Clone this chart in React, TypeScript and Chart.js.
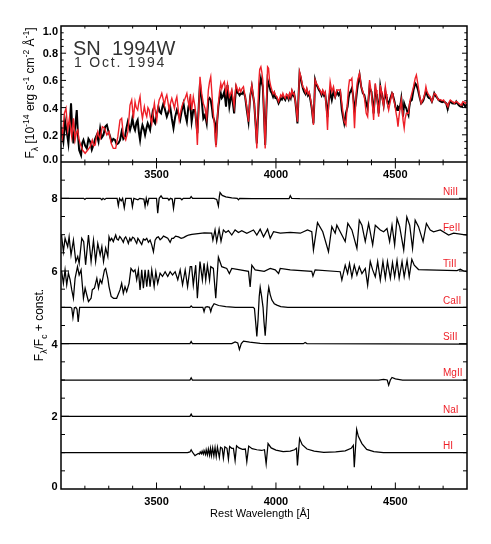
import React, { useEffect, useRef } from "react";
import { Chart, registerables } from "chart.js";
Chart.register(...registerables);

type P = [number, number];

const WAVE_MIN = 3100;
const WAVE_MAX = 4800;
const xLabelTicks = [3500, 4000, 4500];
const topYLabels = [0, 0.2, 0.4, 0.6, 0.8, 1.0];
const botYLabels = [0, 2, 4, 6, 8];
const ionNames = ["NiII", "FeII", "TiII", "CaII", "SiII", "MgII", "NaI", "HI"];
const ionOffsets = [8, 7, 6, 5, 4, 3, 2, 1];
const titleLine1 = "SN  1994W";
const titleLine2 = "1 Oct. 1994";

// observed spectrum (black), 10^-14 erg/s/cm2/A
const observed: P[] = [
  [3100,0.248],[3110,0.15],[3117,0.3],[3124,0.223],[3131,0.137],[3137,0.28],[3142,0.431],[3147,0.25],[3152,0.137],[3157,0.22],[3162,0.309],[3166,0.382],[3171,0.2],[3176,0.088],[3184,0.051],[3189,0.14],[3194,0.162],[3201,0.12],[3208,0.10],[3215,0.17],[3222,0.15],[3229,0.09],[3236,0.125],[3243,0.17],[3250,0.199],[3257,0.15],[3264,0.248],[3271,0.18],[3278,0.199],[3285,0.26],[3292,0.272],[3299,0.223],[3305,0.19],[3312,0.15],[3319,0.17],[3326,0.162],[3333,0.13],[3340,0.137],[3347,0.16],[3354,0.223],[3361,0.17],[3368,0.186],[3374,0.25],[3380,0.297],[3389,0.235],[3394,0.27],[3399,0.321],[3405,0.26],[3410,0.235],[3416,0.29],[3421,0.309],[3426,0.22],[3431,0.162],[3436,0.23],[3441,0.272],[3447,0.24],[3452,0.199],[3458,0.25],[3463,0.284],[3468,0.26],[3473,0.235],[3478,0.3],[3483,0.358],[3489,0.3],[3494,0.284],[3501,0.35],[3508,0.407],[3513,0.37],[3519,0.358],[3524,0.4],[3529,0.431],[3536,0.38],[3543,0.333],[3550,0.37],[3557,0.407],[3564,0.32],[3571,0.248],[3578,0.33],[3585,0.382],[3592,0.35],[3599,0.309],[3606,0.38],[3613,0.431],[3620,0.35],[3627,0.297],[3633,0.4],
  [3640,0.456],[3647,0.297],[3654,0.382],[3661,0.382],[3666,0.3],[3671,0.211],[3677,0.42],[3682,0.578],[3689,0.456],[3696,0.321],[3703,0.346],[3710,0.284],[3717,0.456],[3722,0.47],[3727,0.456],[3732,0.4],[3736,0.333],[3741,0.31],[3745,0.284],[3749,0.125],[3754,0.3],[3759,0.407],[3764,0.47],[3769,0.505],[3773,0.47],[3777,0.48],[3784,0.517],[3791,0.407],[3797,0.566],[3805,0.407],[3810,0.46],[3815,0.505],[3820,0.43],[3825,0.358],[3829,0.46],[3833,0.542],[3838,0.51],[3843,0.505],[3848,0.49],[3853,0.505],[3858,0.5],[3864,0.517],[3871,0.48],[3878,0.382],[3885,0.297],[3892,0.48],[3899,0.554],[3904,0.49],[3909,0.431],[3914,0.3],[3920,0.137],[3924,0.3],[3928,0.431],[3932,0.56],[3937,0.615],[3941,0.58],[3945,0.554],[3950,0.35],[3955,0.125],[3960,0.38],[3965,0.603],[3969,0.58],[3973,0.554],[3978,0.52],[3983,0.505],[3988,0.48],[3993,0.505],[3998,0.47],[4004,0.468],[4011,0.431],[4016,0.45],[4020,0.468],[4025,0.46],[4029,0.48],[4034,0.47],[4039,0.456],[4044,0.48],[4048,0.48],[4053,0.46],[4057,0.493],[4062,0.47],[4067,0.517],[4072,0.49],[4076,0.505],[4081,0.45],[4085,0.382],[4090,0.284],[4095,0.5],[4099,0.652],[4104,0.62],[4108,0.578],[4113,0.54],[4118,0.517],[4124,0.5],[4129,0.529],[4134,0.49],[4139,0.505],[4145,0.45],[4150,0.395],[4154,0.33],[4157,0.284],[4161,0.45],[4164,0.603],[4169,0.57],[4174,0.554],[4180,0.53],[4185,0.517],[4191,0.49],[4196,0.517],[4201,0.49],[4206,0.505],[4211,0.42],[4216,0.33],[4221,0.45],
  [4227,0.517],[4234,0.456],[4241,0.517],[4248,0.48],[4255,0.517],[4262,0.493],[4269,0.517],[4276,0.382],[4281,0.33],[4286,0.284],[4293,0.358],[4300,0.407],[4304,0.47],[4308,0.505],[4313,0.52],[4318,0.542],[4322,0.5],[4325,0.456],[4329,0.382],[4333,0.42],[4336,0.468],[4340,0.53],[4344,0.578],[4350,0.64],[4357,0.554],[4364,0.505],[4370,0.493],[4374,0.46],[4378,0.431],[4384,0.395],[4388,0.47],[4392,0.554],[4396,0.53],[4400,0.517],[4405,0.43],[4409,0.358],[4413,0.45],[4416,0.529],[4420,0.5],[4423,0.48],[4427,0.42],[4430,0.358],[4434,0.45],[4437,0.554],[4441,0.51],[4444,0.48],[4448,0.45],[4451,0.419],[4455,0.48],[4458,0.517],[4462,0.48],[4465,0.456],[4469,0.44],[4472,0.431],[4476,0.45],[4479,0.468],[4483,0.49],[4486,0.505],[4490,0.49],[4493,0.468],[4497,0.44],[4500,0.407],[4504,0.39],[4507,0.382],[4511,0.407],[4515,0.4],[4518,0.395],[4522,0.43],[4525,0.468],[4529,0.4],[4532,0.333],[4537,0.431],[4541,0.41],[4546,0.395],[4550,0.37],[4555,0.346],[4558,0.4],[4562,0.444],[4569,0.456],[4576,0.529],[4583,0.578],[4588,0.566],[4595,0.529],[4601,0.48],[4608,0.431],[4613,0.44],[4618,0.456],[4623,0.49],[4628,0.517],[4632,0.5],[4636,0.48],[4641,0.47],[4646,0.468],[4653,0.444],[4658,0.47],[4663,0.505],[4667,0.49],[4671,0.48],[4676,0.47],[4681,0.456],[4686,0.45],[4691,0.444],[4696,0.44],[4702,0.444],[4707,0.44],[4713,0.431],[4716,0.41],[4720,0.395],[4725,0.43],[4730,0.444],[4734,0.44],[4738,0.431],[4743,0.43],[4747,0.431],[4751,0.43],[4755,0.444],[4760,0.43],[4765,0.419],[4770,0.41],[4775,0.407],[4779,0.42],[4783,0.431],[4788,0.42],[4793,0.407],[4797,0.42],[4800,0.419],
];

// synthetic spectrum (red)
const model: P[] = [
  [3100,0.26],[3106,0.186],[3114,0.358],[3121,0.395],[3128,0.235],[3135,0.321],[3140,0.25],[3145,0.186],[3152,0.321],[3159,0.162],[3165,0.22],[3170,0.235],[3175,0.17],[3180,0.137],[3190,0.088],[3201,0.064],[3212,0.088],[3222,0.113],[3231,0.162],[3237,0.12],[3243,0.125],[3248,0.18],[3254,0.223],[3259,0.19],[3264,0.174],[3273,0.26],[3282,0.248],[3292,0.199],[3301,0.223],[3310,0.137],[3319,0.10],[3329,0.10],[3338,0.186],[3347,0.309],[3354,0.321],[3361,0.199],[3371,0.162],[3380,0.223],[3389,0.419],[3396,0.456],[3403,0.321],[3410,0.444],[3415,0.4],[3421,0.382],[3426,0.44],[3431,0.48],[3436,0.38],[3441,0.321],[3449,0.407],[3454,0.36],[3459,0.333],[3464,0.4],[3469,0.382],[3474,0.33],[3480,0.284],[3486,0.37],[3491,0.431],[3496,0.36],[3501,0.309],[3506,0.4],[3511,0.456],[3517,0.48],[3522,0.505],[3528,0.46],[3533,0.419],[3538,0.47],[3543,0.493],[3548,0.44],[3553,0.382],[3558,0.43],[3564,0.468],[3570,0.43],[3575,0.395],[3580,0.45],[3585,0.48],[3590,0.4],[3595,0.309],[3600,0.36],[3606,0.407],[3612,0.44],[3617,0.456],[3622,0.48],[3627,0.505],[3632,0.45],[3637,0.407],[3642,0.5],
  [3647,0.382],[3654,0.48],[3661,0.407],[3666,0.3],[3671,0.125],[3677,0.4],[3682,0.627],[3689,0.505],[3696,0.431],[3703,0.395],[3710,0.321],[3717,0.529],[3722,0.59],[3727,0.627],[3732,0.5],[3736,0.395],[3741,0.3],[3745,0.211],[3749,0.108],[3754,0.3],[3759,0.431],[3764,0.52],[3769,0.578],[3773,0.54],[3777,0.566],[3784,0.59],[3791,0.505],[3797,0.574],[3805,0.48],[3810,0.5],[3815,0.529],[3820,0.47],[3825,0.407],[3829,0.5],[3833,0.566],[3838,0.54],[3843,0.517],[3848,0.54],[3853,0.517],[3858,0.54],[3864,0.554],[3871,0.48],[3878,0.407],[3885,0.297],[3892,0.48],[3899,0.566],[3904,0.5],[3909,0.431],[3914,0.3],[3920,0.10],[3924,0.35],[3928,0.578],[3932,0.68],[3937,0.70],[3941,0.66],[3945,0.603],[3950,0.35],[3955,0.10],[3960,0.4],[3965,0.70],[3969,0.69],[3973,0.603],[3978,0.56],[3983,0.529],[3988,0.5],[3993,0.517],[3998,0.49],[4004,0.48],[4011,0.444],[4016,0.47],[4020,0.493],[4025,0.48],[4029,0.505],[4034,0.48],[4039,0.468],[4044,0.5],[4048,0.493],[4053,0.47],[4057,0.505],[4062,0.48],[4067,0.529],[4072,0.5],[4076,0.505],[4081,0.45],[4085,0.395],[4090,0.297],[4095,0.5],[4099,0.664],[4104,0.63],[4108,0.59],[4113,0.55],[4118,0.542],[4124,0.51],[4129,0.542],[4134,0.5],[4139,0.517],[4145,0.46],[4150,0.407],[4154,0.33],[4157,0.272],[4161,0.45],[4164,0.603],[4169,0.58],[4174,0.566],[4180,0.54],[4185,0.529],[4191,0.5],[4196,0.529],[4201,0.5],[4206,0.517],[4211,0.4],[4216,0.235],[4221,0.45],
  [4227,0.59],[4234,0.517],[4241,0.554],[4248,0.48],[4255,0.529],[4262,0.529],[4269,0.529],[4276,0.431],[4281,0.36],[4286,0.297],[4293,0.272],[4300,0.456],[4304,0.55],[4308,0.603],[4313,0.6],[4318,0.615],[4322,0.5],[4325,0.395],[4329,0.248],[4333,0.4],[4336,0.505],[4340,0.58],[4344,0.615],[4350,0.652],[4357,0.554],[4364,0.517],[4370,0.48],[4374,0.42],[4378,0.358],[4384,0.333],[4388,0.48],[4392,0.603],[4396,0.55],[4400,0.505],[4405,0.4],[4409,0.309],[4413,0.45],[4416,0.578],[4420,0.53],[4423,0.48],[4427,0.4],[4430,0.333],[4434,0.45],[4437,0.566],[4441,0.52],[4444,0.48],[4448,0.44],[4451,0.407],[4455,0.5],[4458,0.554],[4462,0.5],[4465,0.444],[4469,0.41],[4472,0.382],[4476,0.42],[4479,0.444],[4483,0.48],[4486,0.505],[4490,0.48],[4493,0.456],[4497,0.43],[4500,0.395],[4504,0.35],[4507,0.321],[4511,0.26],[4515,0.33],[4518,0.37],[4522,0.42],[4525,0.456],[4529,0.38],[4532,0.309],[4537,0.248],[4541,0.32],[4546,0.358],[4550,0.36],[4555,0.358],[4558,0.41],[4562,0.456],[4569,0.505],[4576,0.554],[4583,0.615],[4588,0.64],[4595,0.566],[4601,0.493],[4608,0.431],[4613,0.45],[4618,0.468],[4623,0.5],[4628,0.554],[4632,0.52],[4636,0.505],[4641,0.49],[4646,0.48],[4653,0.444],[4658,0.47],[4663,0.505],[4667,0.5],[4671,0.493],[4676,0.47],[4681,0.456],[4686,0.46],[4691,0.456],[4696,0.45],[4702,0.456],[4707,0.44],[4713,0.431],[4716,0.42],[4720,0.407],[4725,0.44],[4730,0.456],[4734,0.45],[4738,0.444],[4743,0.44],[4747,0.431],[4751,0.44],[4755,0.444],[4760,0.44],[4765,0.431],[4770,0.425],[4775,0.419],[4779,0.43],[4783,0.444],[4788,0.44],[4793,0.431],[4797,0.44],[4800,0.444],
];

// single-ion synthetic spectra, F/Fc + const
const niII: P[] = [
  [3100,8],[3195,8],[3200,7.97],[3205,8],[3265,8],[3271,7.96],[3276,8],[3283,7.97],[3289,8],[3335,8],[3340,7.8],[3345,8],[3352,7.93],[3358,8],[3365,7.74],[3371,8],[3394,8],[3399,7.77],[3405,8],[3422,7.96],[3430,8],[3447,7.98],[3452,7.78],[3457,8],[3463,7.84],[3468,8],[3500,8],[3505,7.59],[3511,8],[3519,8.07],[3526,8],[3547,8],[3552,7.95],[3558,8],[3566,7.98],[3571,7.72],[3577,8],[3600,8],[3606,7.96],[3612,8],[3640,8],[3645,8.05],[3651,8],[3700,8],[3740,8],[3752,7.97],[3759,7.79],[3763,8.05],[3766,8.16],[3775,8.08],[3790,8.04],[3815,8.01],[3838,8],[3843,7.96],[3848,8],[3900,7.99],[4000,7.99],[4055,7.99],[4060,8.07],[4066,8],[4100,7.99],[4800,7.98],
];
const feII: P[] = [
  [3100,6.99],[3103,6.94],[3110,6.53],[3117,6.90],[3128,6.67],[3134,6.94],[3142,6.44],[3152,6.85],[3162,6.26],[3170,6.40],[3176,6.21],[3187,6.90],[3195,6.81],[3203,6.17],[3215,6.99],[3226,6.26],[3236,6.85],[3245,6.26],[3254,6.76],[3264,6.44],[3271,6.67],[3278,6.26],[3287,6.63],[3296,6.40],[3301,6.94],[3306,6.84],[3312,6.90],[3319,6.81],[3329,6.99],[3334,6.88],[3340,6.85],[3346,6.95],[3352,6.90],[3361,6.79],[3366,6.9],[3371,6.94],[3377,6.85],[3382,6.76],[3388,6.9],[3393,6.83],[3400,6.93],[3407,6.90],[3412,6.82],[3417,6.76],[3422,6.9],[3427,6.85],[3433,6.78],[3438,6.73],[3445,6.88],[3452,6.85],[3459,6.9],[3466,6.79],[3473,6.85],[3480,6.72],[3487,6.53],[3494,6.85],[3501,6.92],[3508,6.94],[3515,6.86],[3522,6.90],[3529,6.96],[3536,6.94],[3547,6.9],[3557,6.79],[3564,6.9],[3571,6.90],[3580,6.96],[3592,6.94],[3603,6.9],[3613,6.92],[3624,6.96],[3634,6.99],[3648,7.01],[3700,7.05],[3731,7.04],[3736,6.85],[3745,7.13],[3752,6.81],[3762,7.15],[3770,6.82],[3780,7.13],[3790,7.06],[3801,7.11],[3815,6.99],[3829,7.13],[3843,7.06],[3857,7.11],[3878,7.04],[3906,7.13],[3920,6.99],[3934,7.15],[3948,6.94],[3965,7.15],[3976,6.90],[3990,7.08],[4018,7.04],[4060,7.06],[4102,7.04],[4132,7.13],[4150,7.08],[4157,6.58],[4174,7.33],[4196,7.08],[4220,6.53],[4234,7.22],[4248,7.04],[4255,7.26],[4269,7.08],[4290,6.81],[4301,7.31],[4318,7.13],[4339,6.62],[4349,7.40],[4360,7.26],[4374,6.81],[4388,7.31],[4405,6.72],[4416,7.26],[4437,7.13],[4451,7.08],[4465,7.17],[4476,6.81],[4486,7.26],[4497,6.72],[4507,7.44],[4518,7.22],[4535,6.58],[4548,7.49],[4560,7.26],[4572,6.62],[4583,7.40],[4597,7.22],[4616,6.81],[4630,7.31],[4646,7.13],[4660,7.08],[4688,7.13],[4723,6.99],[4744,7.04],[4800,6.99],
];
const tiII: P[] = [
  [3100,6.0],[3103,5.98],[3110,5.66],[3117,6.03],[3124,5.62],[3131,5.94],[3138,5.76],[3145,5.48],[3152,5.25],[3159,5.80],[3169,6.12],[3176,5.89],[3184,6.03],[3194,5.25],[3201,5.53],[3208,5.34],[3215,5.16],[3226,5.25],[3231,5.48],[3240,5.53],[3250,5.80],[3257,5.53],[3264,5.76],[3271,5.66],[3282,6.03],[3287,6.07],[3296,5.80],[3301,5.57],[3310,5.30],[3320,5.25],[3333,5.25],[3347,5.48],[3354,5.66],[3361,5.39],[3368,5.57],[3375,5.43],[3385,5.66],[3393,6.07],[3403,5.98],[3410,6.03],[3417,5.76],[3424,6.03],[3431,5.48],[3438,6.03],[3445,5.53],[3452,6.03],[3459,5.57],[3466,6.03],[3473,5.57],[3480,6.03],[3490,5.57],[3497,5.98],[3505,5.66],[3515,5.94],[3525,5.85],[3536,5.98],[3547,5.85],[3557,5.98],[3567,5.89],[3578,5.98],[3589,5.76],[3599,6.03],[3609,5.62],[3620,6.03],[3630,5.57],[3641,6.12],[3647,6.12],[3654,5.61],[3664,6.16],[3671,5.25],[3682,6.26],[3692,5.75],[3699,6.21],[3706,5.75],[3713,6.16],[3722,5.75],[3727,6.12],[3738,6.07],[3748,5.25],[3759,6.38],[3773,6.12],[3794,6.07],[3805,5.93],[3815,6.07],[3850,6.03],[3885,5.99],[3892,5.56],[3899,6.16],[3913,6.03],[3951,5.99],[3976,6.07],[3997,6.03],[4011,5.93],[4018,6.07],[4060,6.03],[4150,5.99],[4155,5.86],[4164,6.03],[4269,5.98],[4276,5.75],[4290,6.16],[4300,5.93],[4308,6.21],[4318,5.84],[4328,6.16],[4339,5.89],[4349,6.12],[4360,5.93],[4374,6.07],[4384,5.61],[4395,6.26],[4405,6.03],[4416,5.84],[4426,6.26],[4437,5.75],[4448,6.26],[4458,5.80],[4467,6.26],[4479,5.80],[4488,6.23],[4497,5.84],[4507,6.29],[4516,5.80],[4528,6.26],[4537,5.84],[4549,6.29],[4558,5.84],[4569,6.32],[4579,6.16],[4597,6.04],[4632,6.03],[4758,6.01],[4772,6.05],[4786,6.0],[4800,5.98],
];
const caII: P[] = [
  [3100,5.0],[3140,5.0],[3145,4.98],[3150,4.72],[3156,4.99],[3162,5.0],[3167,4.95],[3172,4.6],[3178,5.0],[3640,5.0],[3645,5.04],[3651,5.0],[3694,5.0],[3699,4.88],[3704,5.0],[3712,5.02],[3722,5.0],[3727,4.88],[3732,5.0],[3741,5.1],[3760,5.05],[3790,5.02],[3830,5.0],[3905,5.0],[3910,4.97],[3915,4.6],[3920,4.2],[3925,4.65],[3930,5.3],[3934,5.55],[3940,5.3],[3946,5.0],[3950,4.6],[3955,4.22],[3960,4.7],[3965,5.3],[3970,5.55],[3976,5.35],[3983,5.2],[3993,5.1],[4004,5.06],[4020,5.02],[4050,5.0],[4800,5.0],
];
const siII: P[] = [
  [3100,4.0],[3640,4.0],[3645,4.06],[3650,4.0],[3815,4.0],[3829,4.05],[3840,4.02],[3847,3.84],[3855,4.0],[3864,4.07],[3890,4.04],[3934,4.01],[3960,4.0],[4115,4.0],[4122,4.03],[4130,4.0],[4800,3.99],
];
const mgII: P[] = [
  [3100,3.0],[3640,3.0],[3645,3.06],[3650,3.0],[4430,3.0],[4451,3.02],[4466,3.0],[4472,2.86],[4479,3.0],[4486,3.07],[4500,3.03],[4530,3.0],[4800,3.0],
];
const naI: P[] = [
  [3100,2.0],[3640,2.0],[3645,2.06],[3650,2.0],[4800,2.0],
];
const hI: P[] = [
  [3100,1.0],[3630,1.0],[3640,1.02],[3645,1.08],[3650,1.02],[3655,0.97],[3661,0.92],[3668,0.95],[3675,0.98],[3680,0.96],[3683,1.02],[3688,0.97],[3691,1.04],[3696,0.96],[3699,1.06],[3705,0.95],[3708,1.08],[3713,0.94],[3717,1.1],[3722,0.93],[3726,1.12],[3730,0.92],[3735,1.13],[3740,0.91],[3745,1.14],[3750,0.89],[3755,1.15],[3763,0.87],[3768,1.15],[3775,1.12],[3780,0.85],[3786,1.16],[3795,1.12],[3801,0.82],[3806,1.17],[3815,1.12],[3822,1.12],[3829,0.78],[3835,1.19],[3845,1.13],[3860,1.09],[3872,1.1],[3878,0.75],[3886,1.18],[3900,1.11],[3920,1.08],[3940,1.06],[3952,1.08],[3959,0.69],[3967,1.25],[3980,1.13],[4000,1.07],[4030,1.03],[4060,1.04],[4078,1.08],[4086,1.12],[4090,0.65],[4099,1.39],[4110,1.22],[4130,1.1],[4160,1.04],[4200,1.01],[4250,1.02],[4290,1.05],[4315,1.12],[4324,1.2],[4328,0.6],[4338,1.64],[4345,1.45],[4360,1.25],[4380,1.09],[4410,1.03],[4450,1.0],[4800,1.0],
];

const ionSpectra: P[][] = [niII, feII, tiII, caII, siII, mgII, naI, hI];

// layout (pixels)
const W = 491;
const H = 544;
const AREA = { left: 61, right: 467, top: 26, bottom: 489 };
const TOP_PANEL_H = 136;
const BOT_PANEL_H = AREA.bottom - AREA.top - TOP_PANEL_H;
const TOP_MAX = 1.0;
const BOT_MAX = 9;

const FONT = '"Liberation Sans", Arial, Helvetica, sans-serif';
const RED = "#ee1f27";

type Part = [string, number];

function drawRich(ctx: CanvasRenderingContext2D, cx: number, cy: number, parts: Part[], size: number, rotate: boolean) {
  ctx.save();
  ctx.translate(cx, cy);
  if (rotate) ctx.rotate(-Math.PI / 2);
  const small = size * 0.72;
  const fontFor = (k: number) => `${k === 0 ? size : small}px ${FONT}`;
  let total = 0;
  for (const [t, k] of parts) {
    ctx.font = fontFor(k);
    total += ctx.measureText(t).width;
  }
  let x = -total / 2;
  ctx.textAlign = "left";
  ctx.textBaseline = "alphabetic";
  for (const [t, k] of parts) {
    ctx.font = fontFor(k);
    const dy = k === 1 ? -size * 0.45 : k === -1 ? size * 0.32 : 0;
    ctx.fillText(t, x, dy);
    x += ctx.measureText(t).width;
  }
  ctx.restore();
}

const panelPlugin = {
  id: "panelDecor",
  afterDraw(chart: any) {
    const ctx: CanvasRenderingContext2D = chart.ctx;
    const { left, right, top, bottom } = chart.chartArea;
    const xs = chart.scales.x;
    const yT = chart.scales.yTop;
    const yB = chart.scales.yBot;
    const mid = yT.getPixelForValue(0);
    ctx.save();
    ctx.strokeStyle = "#000";
    ctx.lineCap = "butt";
    const seg = (x1: number, y1: number, x2: number, y2: number) => {
      ctx.beginPath();
      ctx.moveTo(x1, y1);
      ctx.lineTo(x2, y2);
      ctx.stroke();
    };
    ctx.lineWidth = 1;
    for (let w = WAVE_MIN + 100; w < WAVE_MAX; w += 100) {
      const px = xs.getPixelForValue(w);
      const major = w % 500 === 0;
      const lt = major ? 4 : 2.5;
      const lb = major ? 6.5 : 3.3;
      seg(px, top, px, top + lt);
      seg(px, mid, px, mid - lt);
      seg(px, mid, px, mid + lb);
      seg(px, bottom, px, bottom - lb);
    }
    for (let i = 1; i < 20; i++) {
      const py = yT.getPixelForValue(i * 0.05);
      const l = i % 4 === 0 ? 5 : 2.7;
      seg(left, py, left + l, py);
      seg(right, py, right - l, py);
    }
    for (let i = 1; i < 18; i++) {
      const py = yB.getPixelForValue(i * 0.5);
      const l = i % 4 === 0 ? 8 : 4;
      seg(left, py, left + l, py);
      seg(right, py, right - l, py);
    }
    ctx.lineWidth = 1.5;
    ctx.strokeRect(left, top, right - left, bottom - top);
    seg(left, mid, right, mid);

    // tick labels
    ctx.fillStyle = "#000";
    ctx.font = `bold 11px ${FONT}`;
    ctx.textBaseline = "alphabetic";
    ctx.textAlign = "center";
    for (const w of xLabelTicks) {
      const px = xs.getPixelForValue(w);
      ctx.fillText(String(w), px, mid + 15.5);
      ctx.fillText(String(w), px, bottom + 15.5);
    }
    ctx.textAlign = "right";
    for (const v of topYLabels) {
      let py = yT.getPixelForValue(v);
      py = Math.min(Math.max(py, top + 4.7), mid - 2.7);
      ctx.fillText(v.toFixed(1), left - 3, py + 4);
    }
    for (const v of botYLabels) {
      let py = yB.getPixelForValue(v);
      py = Math.min(py, bottom - 3);
      ctx.fillText(String(v), left - 3.5, py + 4);
    }

    // axis titles
    drawRich(ctx, 34, 93, [["F", 0], ["\u03bb", -1], [" [10", 0], ["-14", 1], [" erg s", 0], ["-1", 1], [" cm", 0], ["-2", 1], [" \u00c5", 0], ["-1", 1], ["]", 0]], 12, true);
    drawRich(ctx, 43, 325, [["F", 0], ["\u03bb", -1], ["/F", 0], ["c", -1], [" + const.", 0]], 12, true);
    drawRich(ctx, (left + right) / 2 - 4, bottom + 27.5, [["Rest Wavelength [\u00c5]", 0]], 11, false);

    // object / date
    ctx.textAlign = "left";
    ctx.fillStyle = "#333";
    ctx.font = `20px ${FONT}`;
    ctx.fillText(titleLine1, 73, 55);
    ctx.font = `14px ${FONT}`;
    (ctx as any).letterSpacing = "1.8px";
    ctx.fillText(titleLine2, 74, 67.3);
    (ctx as any).letterSpacing = "0px";

    // ion labels
    ctx.fillStyle = RED;
    ctx.font = `10px ${FONT}`;
    ctx.textBaseline = "middle";
    ionNames.forEach((name, i) => {
      ctx.fillText(name, 443, yB.getPixelForValue(ionOffsets[i] + 0.18));
    });
    ctx.restore();
  },
};

const toXY = (arr: P[]) => arr.map(([x, y]) => ({ x, y }));

export default function App() {
  const ref = useRef<HTMLCanvasElement | null>(null);
  useEffect(() => {
    if (!ref.current) return;
    const ionSets = ionSpectra.map((s, i) => ({
      label: ionNames[i],
      data: toXY(s),
      yAxisID: "yBot",
      borderColor: "#000",
      borderWidth: 1.25,
      pointRadius: 0,
      tension: 0,
      order: 2,
    }));
    const chart = new Chart(ref.current, {
      type: "line",
      data: {
        datasets: [
          { label: "model", data: toXY(model), yAxisID: "yTop", borderColor: RED, borderWidth: 1.4, pointRadius: 0, tension: 0, order: 0 },
          { label: "observed", data: toXY(observed), yAxisID: "yTop", borderColor: "#000", borderWidth: 2, pointRadius: 0, tension: 0, order: 1 },
          ...ionSets,
        ],
      },
      options: {
        animation: false,
        responsive: false,
        devicePixelRatio: 1,
        layout: { padding: { left: AREA.left, right: W - AREA.right, top: AREA.top, bottom: H - AREA.bottom } },
        plugins: { legend: { display: false }, tooltip: { enabled: false }, title: { display: false } },
        scales: {
          x: { type: "linear", min: WAVE_MIN, max: WAVE_MAX, display: false, bounds: "data" },
          yTop: { type: "linear", display: false, bounds: "data", max: TOP_MAX, min: -TOP_MAX * BOT_PANEL_H / TOP_PANEL_H },
          yBot: { type: "linear", display: false, bounds: "data", min: 0, max: BOT_MAX * (BOT_PANEL_H + TOP_PANEL_H) / BOT_PANEL_H },
        },
      },
      plugins: [panelPlugin],
    } as any);
    return () => chart.destroy();
  }, []);
  return (
    <div style={{ position: "fixed", left: 0, top: 0, width: W, height: H, background: "#fff" }}>
      <canvas ref={ref} width={W} height={H} style={{ display: "block" }} />
    </div>
  );
}
